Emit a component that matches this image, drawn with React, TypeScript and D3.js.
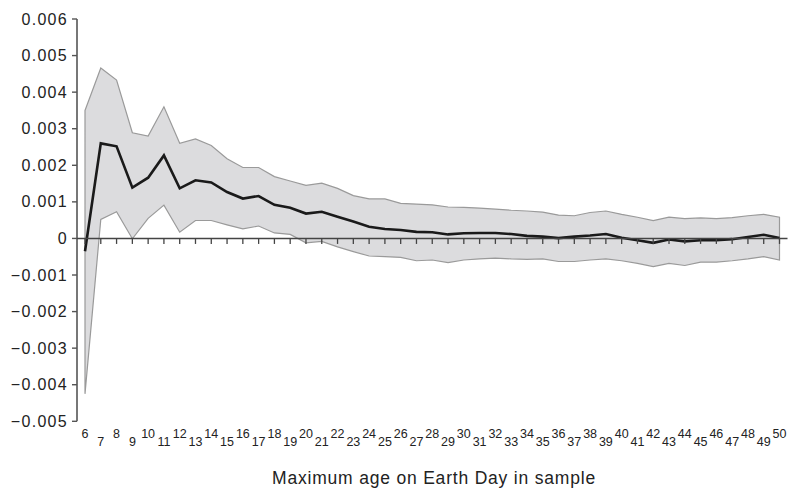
import React from "react";
import * as d3 from "d3";

const ages = d3.range(6, 51);
const meanVals = [-0.35, 2.6, 2.52, 1.39, 1.66, 2.27, 1.37, 1.59, 1.53, 1.27, 1.09, 1.16, 0.92, 0.84, 0.68, 0.73, 0.59, 0.46, 0.32, 0.26, 0.23, 0.18, 0.17, 0.11, 0.14, 0.15, 0.15, 0.12, 0.07, 0.05, 0.01, 0.05, 0.08, 0.12, 0.02, -0.05, -0.12, -0.03, -0.08, -0.05, -0.05, -0.02, 0.04, 0.1, 0.01];
const upperVals = [3.5, 4.66, 4.33, 2.89, 2.8, 3.6, 2.6, 2.72, 2.54, 2.18, 1.94, 1.94, 1.69, 1.57, 1.45, 1.51, 1.37, 1.17, 1.08, 1.08, 0.96, 0.94, 0.92, 0.86, 0.85, 0.83, 0.8, 0.77, 0.75, 0.72, 0.64, 0.62, 0.71, 0.75, 0.66, 0.58, 0.49, 0.58, 0.54, 0.56, 0.54, 0.57, 0.62, 0.66, 0.58];
const lowerVals = [-4.25, 0.52, 0.73, -0.01, 0.55, 0.91, 0.17, 0.49, 0.49, 0.37, 0.26, 0.34, 0.15, 0.11, -0.12, -0.08, -0.23, -0.36, -0.48, -0.5, -0.52, -0.61, -0.59, -0.66, -0.59, -0.56, -0.54, -0.56, -0.57, -0.56, -0.63, -0.63, -0.59, -0.56, -0.61, -0.68, -0.77, -0.68, -0.74, -0.65, -0.65, -0.61, -0.56, -0.5, -0.59];
const yTicks = [0.006, 0.005, 0.004, 0.003, 0.002, 0.001, 0, -0.001, -0.002, -0.003, -0.004, -0.005];
const xTitle = "Maximum age on Earth Day in sample";

export default function App() {
  const W = 789, H = 488;
  const x = d3.scaleLinear().domain([6, 50]).range([85, 779.5]);
  const y = d3.scaleLinear().domain([-0.005, 0.006]).range([421.3, 19]);
  const rows = ages.map((a, i) => ({ a, m: meanVals[i] / 1000, u: upperVals[i] / 1000, l: lowerVals[i] / 1000 }));
  const area = d3.area<any>().x(d => x(d.a)).y0(d => y(d.l)).y1(d => y(d.u));
  const line = d3.line<any>().x(d => x(d.a)).y(d => y(d.m));
  const fmt = (v: number) => v === 0 ? "0" : (v < 0 ? "\u2212" : "") + Math.abs(v).toFixed(3);
  const axisX = 77;
  const y0 = y(0);
  return (
    <svg width={W} height={H} style={{ position: "absolute", left: 0, top: 0, fontFamily: "'Liberation Sans', Arial, Helvetica, sans-serif" }}>
      <rect width={W} height={H} fill="#fff" />
      <path d={area(rows) + "Z"} fill="#dcdcde" stroke="#9a9a9a" strokeWidth={1.2} />
      <path d={line(rows)!} fill="none" stroke="#1a1a1a" strokeWidth={2.6} strokeLinejoin="miter" />
      {/* y axis */}
      <line x1={axisX} x2={axisX} y1={y(0.006)} y2={y(-0.005)} stroke="#555" strokeWidth={1.6} />
      {yTicks.map(t => (
        <g key={t}>
          <line x1={axisX - 5} x2={axisX} y1={y(t)} y2={y(t)} stroke="#555" strokeWidth={1.4} />
          <text x={axisX - 9} y={y(t)} dy="0.35em" textAnchor="end" fontSize={16} letterSpacing={1.3} fill="#222">{fmt(t)}</text>
        </g>
      ))}
      {/* x axis */}
      <line x1={axisX} x2={787.5} y1={y0} y2={y0} stroke="#444" strokeWidth={1.6} />
      {ages.map(a => (
        <g key={a}>
          <line x1={x(a)} x2={x(a)} y1={y0} y2={y0 + 5.5} stroke="#444" strokeWidth={1.3} />
          <text x={x(a)} y={a % 2 === 0 ? 437.5 : 445.7} textAnchor="middle" fontSize={12.5} fill="#222">{a}</text>
        </g>
      ))}
      <text x={434} y={484} textAnchor="middle" fontSize={17.5} letterSpacing={0.8} fill="#222">{xTitle}</text>
    </svg>
  );
}
